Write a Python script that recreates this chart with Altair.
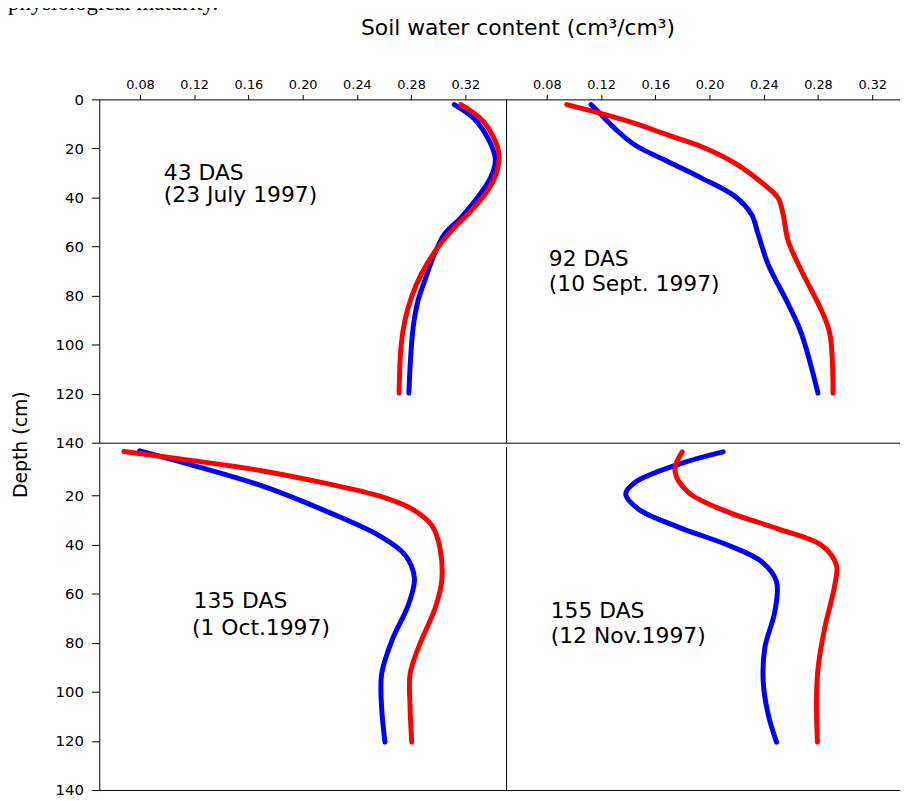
import altair as alt
import pandas as pd

FONT = "DejaVu Sans"
XTICKS = [0.08, 0.12, 0.16, 0.20, 0.24, 0.28, 0.32]
YTICKS_TOP = [0, 20, 40, 60, 80, 100, 120, 140]
YTICKS_BOTTOM = [20, 40, 60, 80, 100, 120, 140]
SERIES = ["Series 1", "Series 2"]  # blue, red

# 43 DAS (23 July 1997)
das43_blue_depth = [2.1, 9.2, 24.0, 32.1, 40.2, 48.3, 55.0, 63.1, 73.9, 82.0, 92.8, 106.3, 119.8]
das43_blue = [0.3118, 0.3287, 0.3420, 0.3384, 0.3287, 0.3166, 0.3045, 0.2972, 0.2900, 0.2851, 0.2815, 0.2795, 0.2783]
das43_red_depth = [2.1, 9.2, 21.3, 29.4, 37.5, 45.6, 52.3, 60.4, 71.2, 80.7, 90.1, 100.9, 119.8]
das43_red = [0.3166, 0.3336, 0.3445, 0.3433, 0.3360, 0.3239, 0.3118, 0.2996, 0.2875, 0.2802, 0.2754, 0.2725, 0.2711]

# 92 DAS (10 Sept. 1997)
das92_blue_depth = [2.1, 6.5, 11.9, 18.6, 25.4, 32.1, 39.5, 46.9, 55.0, 67.2, 83.4, 95.5, 119.8]
das92_blue = [0.1126, 0.1205, 0.1303, 0.1450, 0.1696, 0.1942, 0.2187, 0.2310, 0.2359, 0.2432, 0.2580, 0.2678, 0.2800]
das92_red_depth = [2.1, 5.8, 9.8, 14.6, 19.3, 26.0, 36.1, 40.2, 46.9, 57.7, 69.9, 86.1, 95.5, 119.8]
das92_red = [0.0947, 0.1205, 0.1450, 0.1696, 0.1942, 0.2187, 0.2432, 0.2506, 0.2543, 0.2580, 0.2678, 0.2826, 0.2887, 0.2911]

# 135 DAS (1 Oct. 1997)
das135_blue_depth = [1.7, 7.8, 15.9, 26.7, 36.1, 44.2, 53.7, 64.5, 79.3, 92.8, 106.3, 120.5]
das135_blue = [0.0798, 0.1204, 0.1696, 0.2189, 0.2558, 0.2755, 0.2824, 0.2779, 0.2656, 0.2582, 0.2582, 0.2607]
das135_red_depth = [2.0, 5.8, 9.8, 15.2, 20.0, 25.4, 32.1, 41.6, 55.0, 65.8, 82.0, 92.8, 106.3, 120.5]
das135_red = [0.0682, 0.1204, 0.1696, 0.2189, 0.2558, 0.2804, 0.2952, 0.3013, 0.3025, 0.2977, 0.2853, 0.2792, 0.2792, 0.2804]

# 155 DAS (12 Nov. 1997)
das155_blue_depth = [2.1, 7.2, 14.6, 19.3, 25.4, 32.8, 40.2, 46.9, 55.0, 67.2, 82.0, 95.5, 109.0, 120.5]
das155_blue = [0.2101, 0.1770, 0.1450, 0.1382, 0.1475, 0.1770, 0.2138, 0.2384, 0.2494, 0.2482, 0.2408, 0.2396, 0.2432, 0.2494]
das155_red_depth = [2.1, 9.8, 18.6, 26.7, 33.5, 40.2, 48.3, 56.4, 73.9, 90.1, 103.6, 120.5]
das155_red = [0.1799, 0.1745, 0.1843, 0.2138, 0.2506, 0.2826, 0.2936, 0.2924, 0.2850, 0.2801, 0.2789, 0.2796]

# panel labels: text, anchor value, anchor depth (baseline)
lab43 = (["43 DAS", "(23 July 1997)"], [0.0976, 0.0976], [32.8, 42.0])
lab92 = (["92 DAS", "(10 Sept. 1997)"], [0.0815, 0.0815], [67.9, 78.0])
lab135 = (["135 DAS", "(1 Oct.1997)"], [0.1195, 0.1183], [65.8, 76.9])
lab155 = (["155 DAS", "(12 Nov.1997)"], [0.0829, 0.0829], [69.9, 80.0])


def lines_df(bd, bv, rd, rv):
    return pd.DataFrame({
        "depth": bd + rd,
        "theta": bv + rv,
        "series": [SERIES[0]] * len(bd) + [SERIES[1]] * len(rd),
    })


def labels_df(lab):
    return pd.DataFrame({"label": lab[0], "lx": lab[1], "ly": lab[2]})


W, H = 410, 346
xscale = alt.Scale(domain=[0.05, 0.35], nice=False, zero=False)
yscale = alt.Scale(domain=[0, 140], reverse=True, nice=False, zero=False)
cscale = alt.Scale(domain=SERIES, range=["#0000ff", "#ff0000"])


def domain_only(orient):
    return alt.Axis(orient=orient, labels=False, ticks=False, title=None, grid=False)


def panel(lines, labels, top, left, extra=None):
    if top:
        x_axis = alt.Axis(orient="top", values=XTICKS, format=".2f", tickSize=5,
                          labelPadding=3, labelFontSize=13, title=None, grid=False)
        lab_x_axis = domain_only("bottom")
    else:
        x_axis = domain_only("bottom")
        lab_x_axis = domain_only("bottom")
    if left:
        y_axis = alt.Axis(orient="left", values=YTICKS_TOP if top else YTICKS_BOTTOM,
                          tickSize=8, labelPadding=8, labelFontSize=15, title=None, grid=False)
    else:
        y_axis = domain_only("left")
    line = alt.Chart(lines).mark_line(
        strokeWidth=5, strokeCap="round", strokeJoin="round", interpolate="catmull-rom"
    ).encode(
        x=alt.X("theta:Q", scale=xscale, axis=x_axis),
        y=alt.Y("depth:Q", scale=yscale, axis=y_axis),
        color=alt.Color("series:N", scale=cscale, legend=None),
        order=alt.Order("depth:Q"),
    )
    text = alt.Chart(labels).mark_text(
        align="left", baseline="alphabetic", fontSize=22, font=FONT, color="black"
    ).encode(
        x=alt.X("lx:Q", scale=xscale, axis=lab_x_axis),
        y=alt.Y("ly:Q", scale=yscale, axis=y_axis),
        text="label:N",
    )
    layers = [line, text] + (extra or [])
    return alt.layer(*layers).properties(width=W, height=H)


one = pd.DataFrame({"k": [0]})
title_txt = alt.Chart(one).mark_text(
    align="center", baseline="alphabetic", fontSize=22, font=FONT, color="black"
).encode(x=alt.value(422), y=alt.value(-65), text=alt.value("Soil water content (cm³/cm³)"))
ytitle_txt = alt.Chart(one).mark_text(
    align="center", baseline="middle", fontSize=19, font=FONT, color="black", angle=270
).encode(x=alt.value(-79), y=alt.value(348), text=alt.value("Depth (cm)"))
cut_txt = alt.Chart(one).mark_text(
    align="left", baseline="alphabetic", fontSize=23, font="Liberation Serif", color="black"
).encode(x=alt.value(-92), y=alt.value(-90), text=alt.value("physiological maturity."))

tl = panel(lines_df(das43_blue_depth, das43_blue, das43_red_depth, das43_red),
           labels_df(lab43), True, True, [title_txt, ytitle_txt, cut_txt])
tr = panel(lines_df(das92_blue_depth, das92_blue, das92_red_depth, das92_red),
           labels_df(lab92), True, False)
bl = panel(lines_df(das135_blue_depth, das135_blue, das135_red_depth, das135_red),
           labels_df(lab135), False, True)
br = panel(lines_df(das155_blue_depth, das155_blue, das155_red_depth, das155_red),
           labels_df(lab155), False, False)

chart = alt.concat(
    tl, tr, bl, br, columns=2, spacing={"row": 4, "column": 0}, bounds="flush"
).properties(
    padding={"left": 0, "top": -19, "right": -13, "bottom": -1}
).configure_view(stroke=None).configure_axis(
    labelFont=FONT, labelColor="black", domainColor="black", tickColor="black",
    domainWidth=1, tickWidth=1,
)

chart.save("out.html", embed_options={"renderer": "svg", "actions": False})
